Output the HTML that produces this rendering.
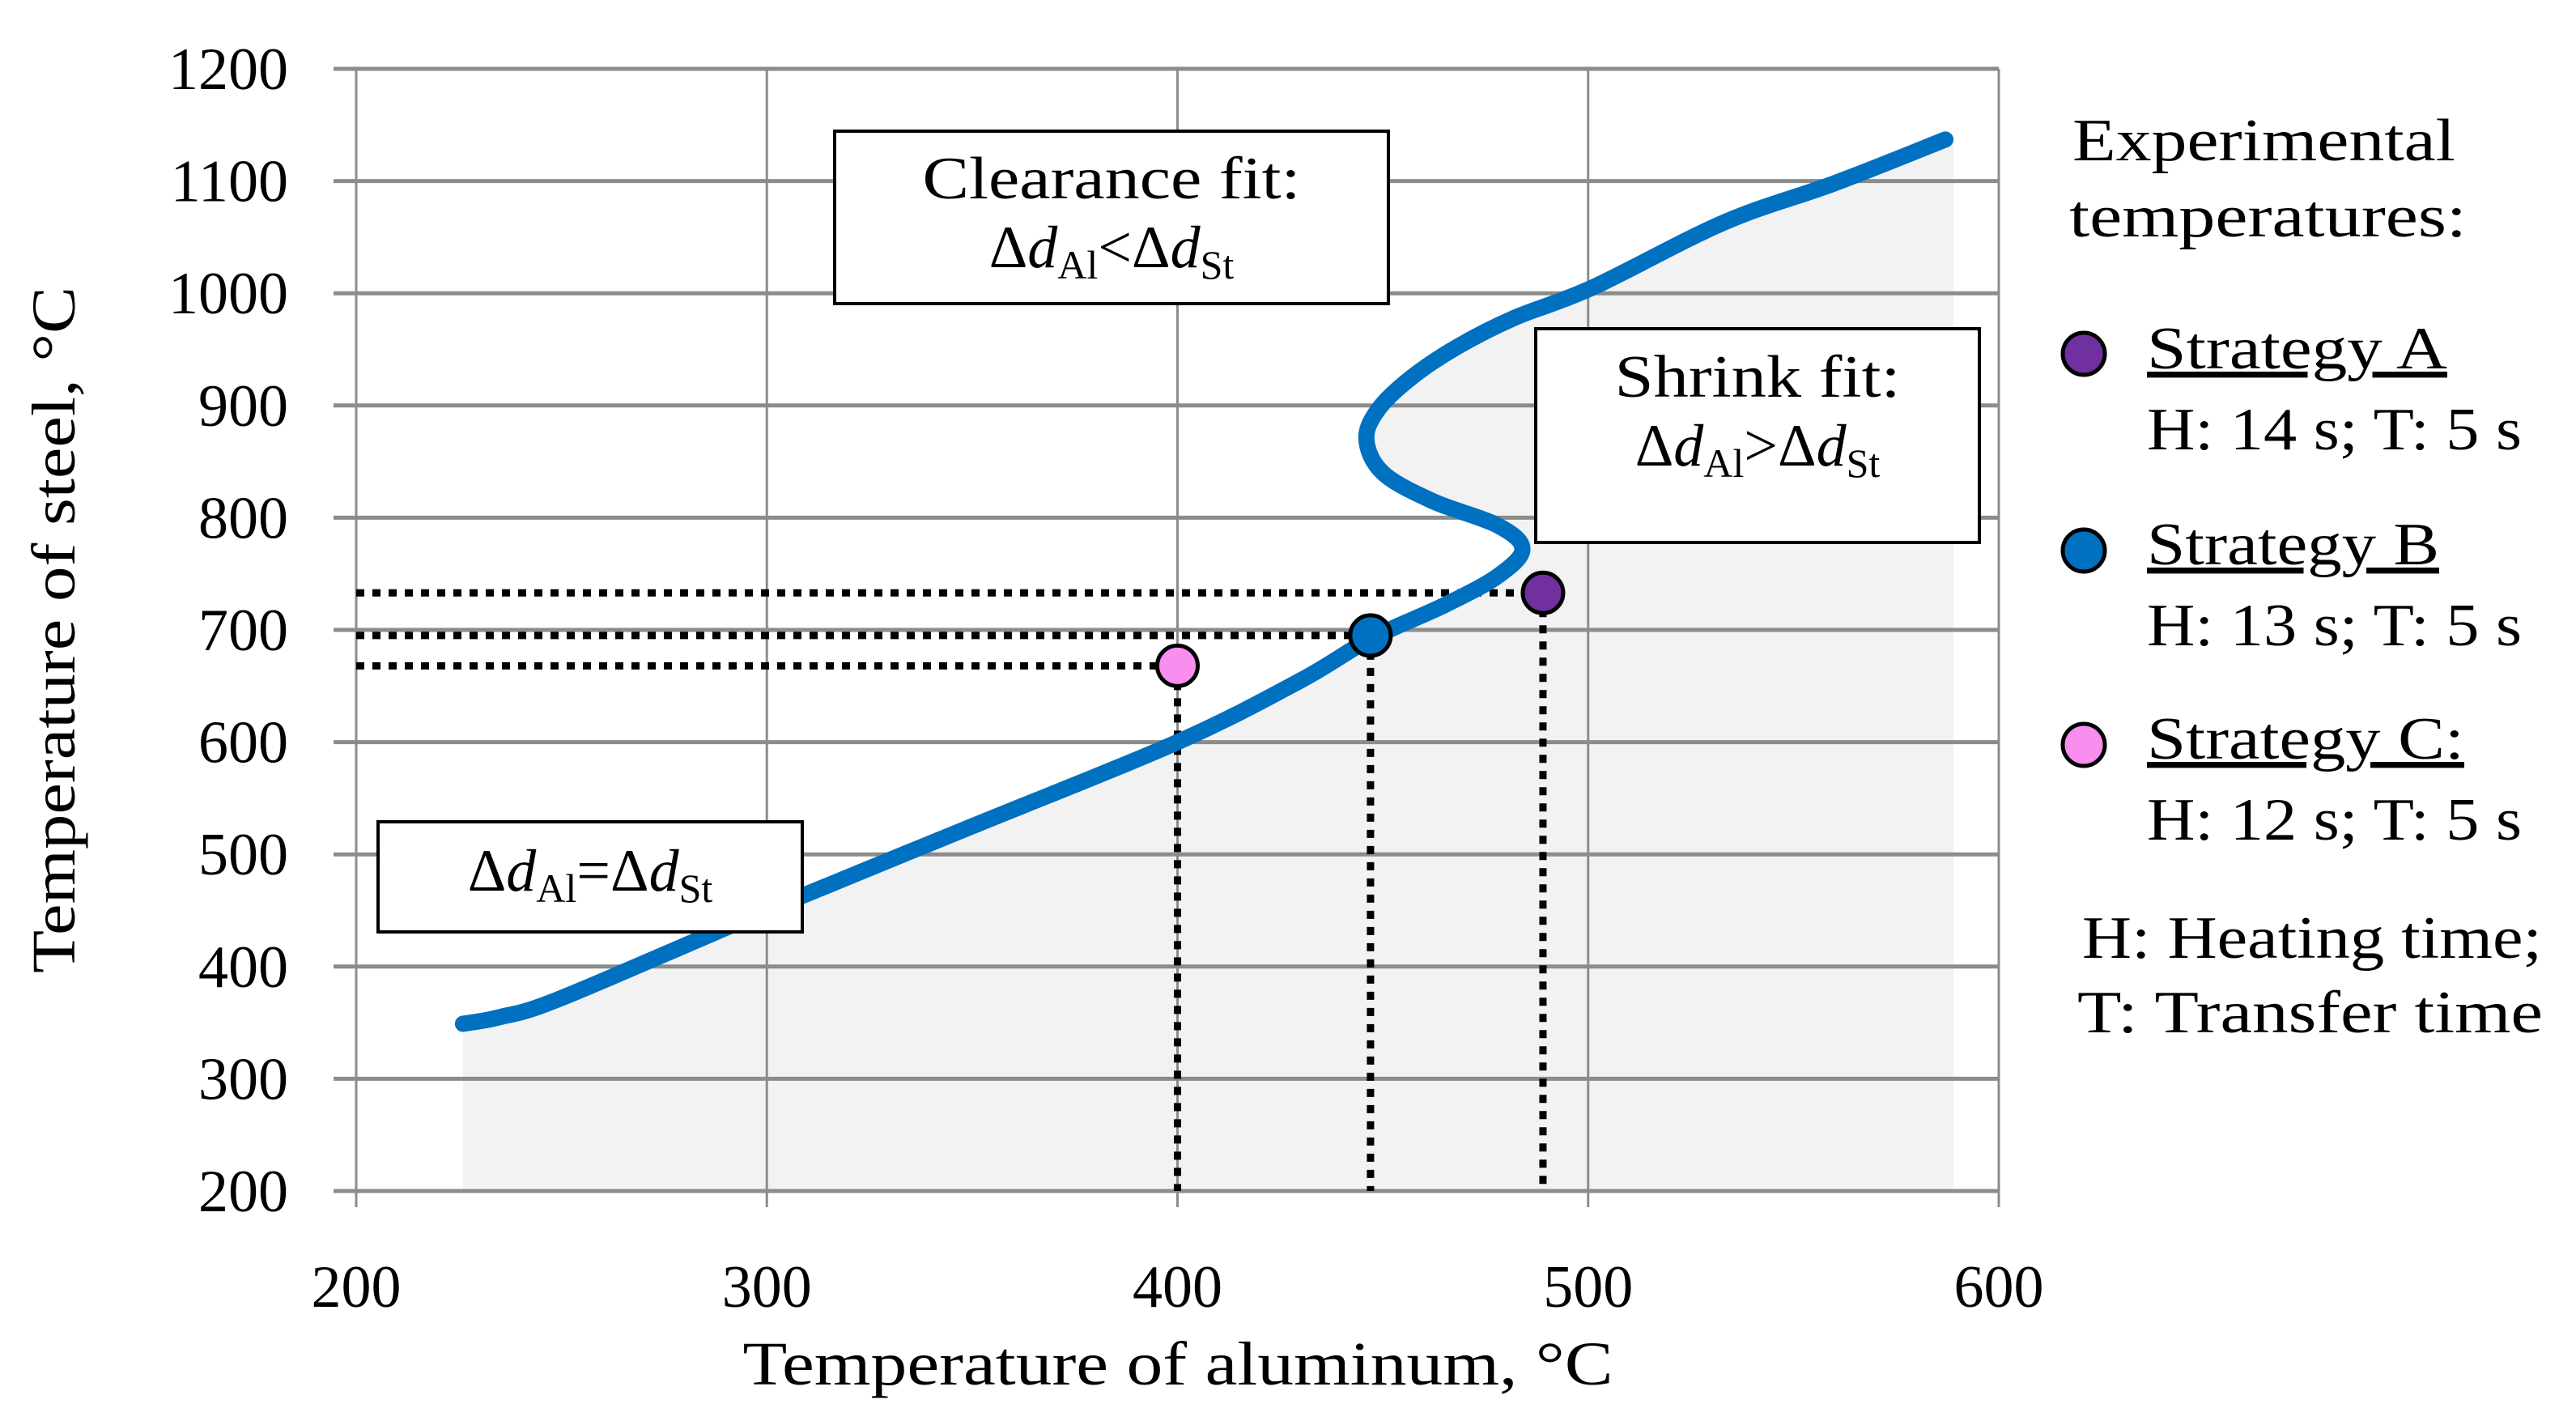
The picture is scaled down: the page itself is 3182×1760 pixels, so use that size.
<!DOCTYPE html>
<html><head><meta charset="utf-8">
<style>
html,body{margin:0;padding:0;background:#fff;}
svg{display:block;font-family:"Liberation Serif",serif;}
</style></head>
<body>
<svg id="chart" width="3182" height="1760" viewBox="0 0 3182 1760" xmlns="http://www.w3.org/2000/svg">
<g id="shade"></g>
<g id="grid"></g>
<g id="guides"></g>
<g id="curve"></g>
<g id="marks"></g>
<g id="ticks"></g>

<text x="1455" y="1710" font-size="76" text-anchor="middle" textLength="1075" lengthAdjust="spacingAndGlyphs">Temperature of aluminum, °C</text>
<text transform="translate(92,778) rotate(-90)" font-size="76" text-anchor="middle" textLength="848" lengthAdjust="spacingAndGlyphs">Temperature of steel, °C</text>

<g>
<rect x="1031" y="162" width="684" height="213" fill="#fff" stroke="#000" stroke-width="4"/>
<text x="1373" y="245" font-size="74" text-anchor="middle" textLength="467" lengthAdjust="spacingAndGlyphs">Clearance fit:</text>
<text x="1373" y="330" font-size="74" text-anchor="middle">Δ<tspan font-style="italic">d</tspan><tspan font-size="50" dy="14">Al</tspan><tspan dy="-14">&lt;Δ</tspan><tspan font-style="italic">d</tspan><tspan font-size="50" dy="14">St</tspan></text>
</g>
<g>
<rect x="1897" y="406" width="548" height="264" fill="#fff" stroke="#000" stroke-width="4"/>
<text x="2171" y="490" font-size="74" text-anchor="middle" textLength="353" lengthAdjust="spacingAndGlyphs">Shrink fit:</text>
<text x="2171" y="575" font-size="74" text-anchor="middle">Δ<tspan font-style="italic">d</tspan><tspan font-size="50" dy="14">Al</tspan><tspan dy="-14">&gt;Δ</tspan><tspan font-style="italic">d</tspan><tspan font-size="50" dy="14">St</tspan></text>
</g>
<g>
<rect x="467" y="1015" width="524" height="136" fill="#fff" stroke="#000" stroke-width="4"/>
<text x="729" y="1100" font-size="74" text-anchor="middle">Δ<tspan font-style="italic">d</tspan><tspan font-size="50" dy="14">Al</tspan><tspan dy="-14">=Δ</tspan><tspan font-style="italic">d</tspan><tspan font-size="50" dy="14">St</tspan></text>
</g>

<g font-size="74">
<text x="2560" y="198" textLength="473" lengthAdjust="spacingAndGlyphs">Experimental</text>
<text x="2556" y="292" textLength="491" lengthAdjust="spacingAndGlyphs">temperatures:</text>
<g>
<circle cx="2574" cy="437" r="26" fill="#7030a0" stroke="#000" stroke-width="5"/>
<text x="2652" y="455" text-decoration="underline" textLength="371" lengthAdjust="spacingAndGlyphs">Strategy A</text>
<text x="2652" y="555" textLength="463" lengthAdjust="spacingAndGlyphs">H: 14 s; T: 5 s</text>
</g>
<g>
<circle cx="2574" cy="680" r="26" fill="#0070c0" stroke="#000" stroke-width="5"/>
<text x="2652" y="697" text-decoration="underline" textLength="361" lengthAdjust="spacingAndGlyphs">Strategy B</text>
<text x="2652" y="797" textLength="463" lengthAdjust="spacingAndGlyphs">H: 13 s; T: 5 s</text>
</g>
<g>
<circle cx="2574" cy="920" r="26" fill="#f88ef0" stroke="#000" stroke-width="5"/>
<text x="2652" y="937" text-decoration="underline" textLength="392" lengthAdjust="spacingAndGlyphs">Strategy C:</text>
<text x="2652" y="1037" textLength="463" lengthAdjust="spacingAndGlyphs">H: 12 s; T: 5 s</text>
</g>
<text x="2572" y="1183" textLength="568" lengthAdjust="spacingAndGlyphs">H: Heating time;</text>
<text x="2566" y="1275" textLength="575" lengthAdjust="spacingAndGlyphs">T: Transfer time</text>
</g>
</svg>
<script>
const xTicks = [200, 300, 400, 500, 600];
const yTicks = [200, 300, 400, 500, 600, 700, 800, 900, 1000, 1100, 1200];
const curveAl = [226, 235, 250, 300, 350, 400, 430, 447, 465, 478, 484, 478, 462, 450, 446, 449, 457, 468, 482, 501, 533, 560, 587];
const curveSt = [349, 355, 372, 450, 525, 600, 655, 692, 722, 748, 772, 793, 815, 840, 870, 897, 925, 952, 978, 1005, 1063, 1098, 1137];
const strategyNames = ['A', 'B', 'C'];
const strategyAl = [489, 447, 400];
const strategySt = [733, 695, 668];
const strategyColors = ['#7030a0', '#0070c0', '#f88ef0'];

const NS = 'http://www.w3.org/2000/svg';
const X0 = 440, X1 = 2469, Y0 = 1471, Y1 = 85;
function sx(v){ return X0 + (v - 200) / 400 * (X1 - X0); }
function sy(v){ return Y0 - (v - 200) / 1000 * (Y0 - Y1); }
function mk(tag, attrs, parent){ const e = document.createElementNS(NS, tag); for (const k in attrs) e.setAttribute(k, attrs[k]); parent.appendChild(e); return e; }

const shade = document.getElementById('shade');
let sp = 'M' + sx(curveAl[0]) + ',' + sy(200);
for (let i = 0; i < curveAl.length; i++) sp += ' L' + sx(curveAl[i]) + ',' + sy(curveSt[i]);
sp += ' L' + sx(curveAl[curveAl.length - 1] + 2) + ',' + sy(curveSt[curveSt.length - 1]) + ' L' + sx(curveAl[curveAl.length - 1] + 2) + ',' + sy(200) + ' Z';
const area = mk('path', {d: sp, fill: '#f2f2f2'}, shade);



const grid = document.getElementById('grid');
const ticks = document.getElementById('ticks');
xTicks.forEach(v => {
  const l = mk('line', {x1: sx(v), x2: sx(v), y1: Y1, y2: Y0 + 20, stroke: '#8c8c8c', 'stroke-width': 3}, grid);
  
  
  const t = mk('text', {x: sx(v), y: Y0 + 143, 'font-size': 74, 'text-anchor': 'middle'}, ticks);
  t.textContent = v;
  
  
});
yTicks.forEach(v => {
  const l = mk('line', {x1: X0 - 28, x2: X1, y1: sy(v), y2: sy(v), stroke: '#8c8c8c', 'stroke-width': 5}, grid);
  
  
  const t = mk('text', {x: 356, y: sy(v) + 25, 'font-size': 74, 'text-anchor': 'end'}, ticks);
  t.textContent = v;
  
  
});

const guides = document.getElementById('guides');
strategyAl.forEach((a, i) => {
  const h = mk('line', {x1: X0, x2: sx(a), y1: sy(strategySt[i]), y2: sy(strategySt[i]), stroke: '#000', 'stroke-width': 9, 'stroke-dasharray': '10 10'}, guides);
  
  
  const v = mk('line', {x1: sx(a), x2: sx(a), y1: sy(strategySt[i]), y2: Y0, stroke: '#000', 'stroke-width': 9, 'stroke-dasharray': '10 10'}, guides);
  
  
});

const pts = curveAl.map((a, i) => [sx(a), sy(curveSt[i])]);
let d = 'M' + pts[0][0] + ',' + pts[0][1];
for (let i = 0; i < pts.length - 1; i++) {
  const p0 = pts[Math.max(0, i - 1)], p1 = pts[i], p2 = pts[i + 1], p3 = pts[Math.min(pts.length - 1, i + 2)];
  const c1 = [p1[0] + (p2[0] - p0[0]) / 6, p1[1] + (p2[1] - p0[1]) / 6];
  const c2 = [p2[0] - (p3[0] - p1[0]) / 6, p2[1] - (p3[1] - p1[1]) / 6];
  d += ' C' + c1[0] + ',' + c1[1] + ' ' + c2[0] + ',' + c2[1] + ' ' + p2[0] + ',' + p2[1];
}
const line = mk('path', {d: d, fill: 'none', stroke: '#0070c0', 'stroke-width': 20, 'stroke-linecap': 'round', 'stroke-linejoin': 'round'}, document.getElementById('curve'));



const marks = document.getElementById('marks');
strategyAl.forEach((a, i) => {
  const c = mk('circle', {cx: sx(a), cy: sy(strategySt[i]), r: 25, fill: strategyColors[i], stroke: '#000', 'stroke-width': 5}, marks);
  
  
});
</script>
</body></html>
